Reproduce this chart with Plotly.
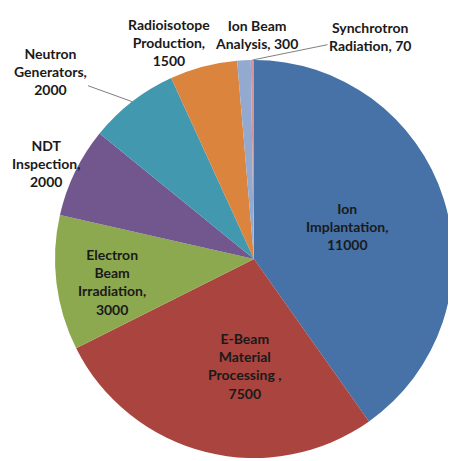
import math
import plotly.graph_objects as go

labels = ["Ion Implantation", "E-Beam Material Processing ", "Electron Beam Irradiation",
          "NDT Inspection", "Neutron Generators", "Radioisotope Production",
          "Ion Beam Analysis", "Synchrotron Radiation"]
values = [11000, 7500, 3000, 2000, 2000, 1500, 300, 70]
label_lines = [["Ion", "Implantation,"], ["E-Beam", "Material", "Processing ,"],
               ["Electron", "Beam", "Irradiation,"], ["NDT", "Inspection,"],
               ["Neutron", "Generators,"], ["Radioisotope", "Production,"],
               ["Ion Beam", "Analysis, 300"], ["Synchrotron", "Radiation, 70"]]
colors = ["#4672A8", "#A9443F", "#8CA94F", "#72578F", "#4198AF", "#DB843D", "#93A9D0", "#D49594"]

# the page body has an 8px default margin, so the figure is drawn 8px in from the window edge
OFF = 8
W, H = 456 - OFF, 461 - OFF
CX, CY, R = 254 - OFF, 259 - OFF, 199

# label placement (window pixel centre of each text block), and whether a leader line is drawn
label_pos = [(347, 226), (245, 366), (112, 282), (46, 163), (50, 72), (169, 43), (256, 35), (370, 36)]
leader = [False, False, False, False, True, False, False, True]

fig = go.Figure(go.Pie(
    labels=labels, values=values, sort=False, direction="clockwise", rotation=0,
    marker=dict(colors=colors, line=dict(width=0)),
    textinfo="none", hoverinfo="label+value", showlegend=False,
    domain=dict(x=[(CX - R) / W, (CX + R) / W], y=[(H - CY - R) / H, (H - CY + R) / H]),
))

font = dict(family="Lato", size=14, color="#1a1a1a")
total = sum(values)
cum = 0
annotations = []
for i, (lab, v) in enumerate(zip(labels, values)):
    mid = (cum + v / 2) / total
    cum += v
    lines = list(label_lines[i])
    if not lines[-1].endswith(str(v)):
        lines.append(f"{v}")
    text = "<br>".join("<b>" + ln + "</b>" for ln in lines)
    tx, ty = label_pos[i][0] - OFF, label_pos[i][1] - OFF
    if leader[i]:
        ang = 2 * math.pi * mid
        hx = CX + R * math.sin(ang)
        hy = CY - R * math.cos(ang)
        annotations.append(dict(
            x=hx / W, y=1 - hy / H, xref="paper", yref="paper",
            ax=tx - hx, ay=ty - hy, axref="pixel", ayref="pixel",
            text=text, showarrow=True, arrowhead=0, arrowwidth=1, arrowcolor="#7f7f7f",
            standoff=0, font=font, align="center"))
    else:
        annotations.append(dict(
            x=tx / W, y=1 - ty / H, xref="paper", yref="paper", showarrow=False,
            text=text, xanchor="center", yanchor="middle", font=font, align="center"))

fig.update_layout(
    width=W, height=H, margin=dict(l=0, r=0, t=0, b=0),
    paper_bgcolor="white", plot_bgcolor="white",
    annotations=annotations,
)
fig.write_html("out.html")
